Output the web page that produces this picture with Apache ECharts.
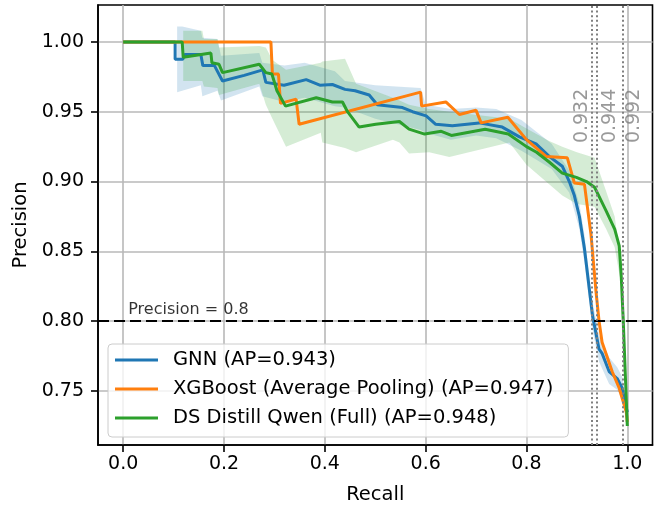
<!DOCTYPE html>
<html>
<head>
<meta charset="utf-8">
<script src="https://cdn.jsdelivr.net/npm/echarts@6/dist/echarts.min.js"></script>
<style>
  html, body { margin: 0; padding: 0; background: #fff; }
  #main { width: 672px; height: 510px; }
</style>
</head>
<body>
<div id="main"></div>
<script>
// tick labels
var xTicks = [0, 0.2, 0.4, 0.6, 0.8, 1.0];
var yTicks = [0.75, 0.8, 0.85, 0.9, 0.95, 1.0];

var seriesNames = [
  "GNN (AP=0.943)",
  "XGBoost (Average Pooling) (AP=0.947)",
  "DS Distill Qwen (Full) (AP=0.948)"
];

// GNN mean curve
var gnnRecall = [0, 0.103, 0.103, 0.118, 0.122, 0.154, 0.158, 0.181, 0.197, 0.240, 0.277, 0.283, 0.319, 0.363, 0.39, 0.415, 0.44, 0.46, 0.488, 0.504, 0.554, 0.574, 0.601, 0.62, 0.653, 0.706, 0.752, 0.786, 0.819, 0.845, 0.871, 0.885, 0.895, 0.905, 0.915, 0.931, 0.944, 0.950, 0.964, 0.980, 0.990, 0.998, 1.0];
var gnnPrecision = [1, 1, 0.9875, 0.9875, 0.991, 0.991, 0.983, 0.983, 0.972, 0.976, 0.980, 0.971, 0.969, 0.973, 0.969, 0.9695, 0.966, 0.965, 0.962, 0.955, 0.953, 0.950, 0.947, 0.941, 0.940, 0.942, 0.939, 0.932, 0.927, 0.918, 0.911, 0.900, 0.890, 0.875, 0.852, 0.804, 0.780, 0.777, 0.764, 0.759, 0.752, 0.738, 0.735];
// GNN band
var gnnBandRecall = [0.107, 0.117, 0.154, 0.157, 0.187, 0.194, 0.270, 0.276, 0.32, 0.36, 0.42, 0.44, 0.50, 0.59, 0.60, 0.65, 0.70, 0.74, 0.79, 0.85, 0.885, 0.905, 0.915, 0.931, 0.944, 0.964, 0.98, 0.99, 1.0];
var gnnBandLow = [0.964, 0.965, 0.969, 0.961, 0.965, 0.958, 0.968, 0.961, 0.957, 0.960, 0.954, 0.953, 0.945, 0.937, 0.935, 0.930, 0.933, 0.931, 0.922, 0.909, 0.892, 0.866, 0.842, 0.794, 0.771, 0.755, 0.751, 0.744, 0.732];
var gnnBandHigh = [1.011, 1.011, 1.008, 1.003, 1.002, 0.990, 0.992, 0.985, 0.983, 0.985, 0.979, 0.972, 0.969, 0.967, 0.955, 0.952, 0.953, 0.952, 0.944, 0.927, 0.908, 0.884, 0.862, 0.814, 0.790, 0.774, 0.767, 0.760, 0.741];

// XGBoost curve
var xgbRecall = [0, 0.293, 0.296, 0.308, 0.312, 0.343, 0.349, 0.590, 0.592, 0.640, 0.667, 0.700, 0.710, 0.763, 0.800, 0.839, 0.881, 0.895, 0.915, 0.928, 0.938, 0.944, 0.950, 0.970, 0.984, 0.998, 1.0];
var xgbPrecision = [1, 1, 0.977, 0.977, 0.956, 0.959, 0.941, 0.964, 0.954, 0.957, 0.948, 0.951, 0.942, 0.946, 0.930, 0.918, 0.917, 0.899, 0.898, 0.862, 0.821, 0.800, 0.785, 0.764, 0.752, 0.735, 0.728];

// DS Distill Qwen mean curve
var dsRecall = [0, 0.117, 0.119, 0.174, 0.176, 0.190, 0.197, 0.270, 0.283, 0.295, 0.305, 0.322, 0.383, 0.415, 0.435, 0.445, 0.468, 0.501, 0.548, 0.567, 0.598, 0.631, 0.651, 0.718, 0.764, 0.80, 0.82, 0.845, 0.871, 0.899, 0.919, 0.935, 0.958, 0.975, 0.984, 0.988, 0.992, 1.0];
var dsPrecision = [1, 1, 0.989, 0.992, 0.985, 0.984, 0.978, 0.984, 0.978, 0.977, 0.965, 0.954, 0.960, 0.957, 0.957, 0.950, 0.939, 0.941, 0.943, 0.9375, 0.934, 0.936, 0.933, 0.9375, 0.934, 0.925, 0.921, 0.914, 0.906, 0.903, 0.900, 0.896, 0.879, 0.866, 0.854, 0.832, 0.800, 0.725];
// DS band
var dsBandRecall = [0.119, 0.157, 0.160, 0.187, 0.19, 0.27, 0.283, 0.296, 0.323, 0.392, 0.395, 0.44, 0.462, 0.535, 0.548, 0.567, 0.607, 0.647, 0.766, 0.80, 0.845, 0.871, 0.90, 0.935, 0.958, 0.975, 0.988, 0.994, 1.0];
var dsBandLow = [0.972, 0.972, 0.968, 0.967, 0.962, 0.970, 0.955, 0.945, 0.925, 0.935, 0.928, 0.924, 0.921, 0.930, 0.928, 0.920, 0.921, 0.9175, 0.928, 0.912, 0.898, 0.890, 0.884, 0.882, 0.866, 0.853, 0.826, 0.796, 0.722];
var dsBandHigh = [1.008, 1.008, 1.002, 1.002, 0.996, 0.997, 0.996, 0.987, 0.980, 0.985, 0.986, 0.988, 0.970, 0.960, 0.958, 0.955, 0.952, 0.950, 0.945, 0.938, 0.929, 0.925, 0.921, 0.917, 0.893, 0.875, 0.840, 0.804, 0.728];

// recall where each curve reaches precision 0.8
var thresholdRecall = [0.932, 0.944, 0.992];
var thresholdSide = [-1, 1, 1]; // label left or right of its line
var precisionLine = 0.8;

var colors = ["#1f77b4", "#ff7f0e", "#2ca02c"];
var bandColors = ["rgba(31,119,180,0.2)", "rgba(44,160,44,0.2)"];

function zip(xs, ys) {
  var out = [];
  for (var i = 0; i < xs.length; i++) out.push([xs[i], ys[i]]);
  return out;
}

function bandSeries(recall, low, high, color) {
  return {
    type: "custom",
    silent: true,
    z: 1,
    data: [[recall[0], low[0]]],
    encode: { x: 0, y: 1 },
    renderItem: function (params, api) {
      var pts = [];
      for (var i = 0; i < recall.length; i++) pts.push(api.coord([recall[i], high[i]]));
      for (var j = recall.length - 1; j >= 0; j--) pts.push(api.coord([recall[j], low[j]]));
      return { type: "polygon", shape: { points: pts }, style: { fill: color } };
    }
  };
}

function lineSeries(name, xs, ys, color) {
  return {
    name: name,
    type: "line",
    z: 3,
    showSymbol: false,
    symbol: "none",
    silent: true,
    color: color,
    lineStyle: { color: color, width: 3 },
    data: zip(xs, ys)
  };
}

var fontFamily = "DejaVu Sans";

var myChart = echarts.init(document.getElementById("main"));
var lines = [
  lineSeries(seriesNames[0], gnnRecall, gnnPrecision, colors[0]),
  lineSeries(seriesNames[1], xgbRecall, xgbPrecision, colors[1]),
  lineSeries(seriesNames[2], dsRecall, dsPrecision, colors[2])
];

// reference lines
lines[2].markLine = {
  silent: true,
  symbol: "none",
  animation: false,
  label: { show: false },
  data: [
    { yAxis: precisionLine, lineStyle: { color: "#000", width: 2, type: [11, 5] } }
  ].concat(thresholdRecall.map(function (r) {
    return { xAxis: r, lineStyle: { color: "#808080", width: 2, type: [2, 2.6] } };
  }))
};

var option = {
  animation: false,
  textStyle: { fontFamily: fontFamily },
  grid: {
    left: 98, right: 19.5, top: 5, bottom: 64,
    show: true, borderColor: "#000", borderWidth: 1.6,
    containLabel: false
  },
  legend: {
    data: seriesNames,
    orient: "vertical",
    left: 108,
    top: 344,
    padding: [6, 15, 9, 7],
    itemGap: 9,
    itemWidth: 43,
    itemHeight: 3,
    icon: "rect",
    backgroundColor: "rgba(255,255,255,0.8)",
    borderColor: "#cccccc",
    borderWidth: 1,
    borderRadius: 4,
    textStyle: { fontSize: 19.5, color: "#000", lineHeight: 20, padding: [0, 0, 0, 10], fontFamily: fontFamily }
  },
  xAxis: {
    type: "value",
    min: -0.05,
    max: 1.05,
    name: "Recall",
    nameLocation: "middle",
    nameGap: 40,
    nameTextStyle: { fontSize: 19.5, color: "#000" },
    axisLine: { show: true, onZero: false, lineStyle: { color: "#000", width: 1.6 } },
    axisTick: { show: true, length: 7, customValues: xTicks, lineStyle: { color: "#000", width: 1.6 } },
    axisLabel: {
      customValues: xTicks,
      fontSize: 19, color: "#000", margin: 10,
      formatter: function (v) { return v.toFixed(1); }
    },
    splitLine: { show: true, lineStyle: { color: "#b8b8b8", width: 1.6 } }
  },
  yAxis: {
    type: "value",
    min: 0.7114,
    max: 1.0264,
    name: "Precision",
    nameLocation: "middle",
    nameGap: 62,
    nameTextStyle: { fontSize: 19.5, color: "#000" },
    axisLine: { show: true, onZero: false, lineStyle: { color: "#000", width: 1.6 } },
    axisTick: { show: true, length: 7, customValues: yTicks, lineStyle: { color: "#000", width: 1.6 } },
    axisLabel: {
      customValues: yTicks,
      fontSize: 19, color: "#000", margin: 14,
      formatter: function (v) { return v.toFixed(2); }
    },
    splitLine: { show: true, lineStyle: { color: "#b8b8b8", width: 1.6 } }
  },
  series: [
    bandSeries(gnnBandRecall, gnnBandLow, gnnBandHigh, bandColors[0]),
    bandSeries(dsBandRecall, dsBandLow, dsBandHigh, bandColors[1])
  ].concat(lines).concat([
    {
      type: "scatter",
      silent: true,
      z: 5,
      symbolSize: 1,
      itemStyle: { color: "rgba(0,0,0,0)" },
      data: thresholdRecall.map(function (r, i) {
        // rotated label: the offset's second value moves it sideways
        return { value: [r, 0.947], label: { offset: [0, thresholdSide[i] * 10.5] } };
      }),
      label: {
        show: true,
        position: "inside",
        rotate: 90,
        align: "center",
        verticalAlign: "middle",
        fontSize: 19,
        color: "#808080",
        formatter: function (p) { return p.value[0].toFixed(3); }
      }
    },
    {
      type: "scatter",
      silent: true,
      z: 5,
      symbolSize: 1,
      itemStyle: { color: "rgba(0,0,0,0)" },
      data: [[0.01, 0.8025]],
      label: {
        show: true,
        position: "inside",
        align: "left",
        verticalAlign: "bottom",
        fontSize: 16,
        color: "#000",
        formatter: "Precision = " + precisionLine
      }
    }
  ])
};
myChart.setOption(option);
</script>
</body>
</html>
